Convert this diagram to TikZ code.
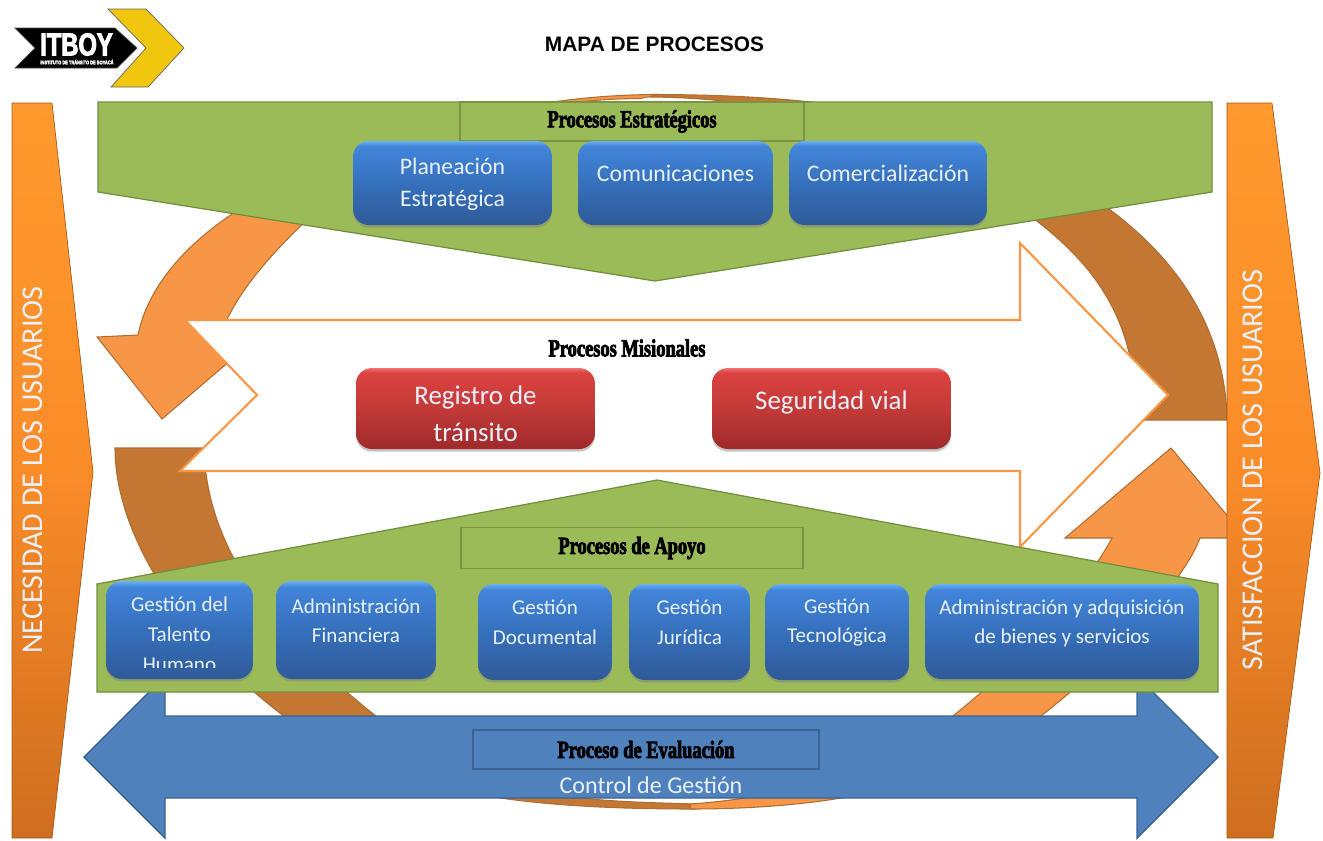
\documentclass[tikz,border=0pt]{standalone}
\usepackage{fontspec}
\setmainfont{Carlito}
\newfontfamily\titlefont{Liberation Sans}
\newfontfamily\headfont[FakeStretch=.75,FakeBold=3]{Liberation Serif}
\newfontfamily\logofont[FakeStretch=.75,FakeBold=3]{Liberation Sans}
\usetikzlibrary{shadows}
\definecolor{ringorange}{HTML}{F79646}
\definecolor{ringbrown}{HTML}{C47732}
\definecolor{ringline}{HTML}{AE6E33}
\definecolor{leafgreen}{HTML}{9BBB59}
\definecolor{leafline}{HTML}{6F8F3F}
\definecolor{headline}{HTML}{7C9346}
\definecolor{evalblue}{HTML}{4F81BD}
\definecolor{evalline}{HTML}{3A6391}
\definecolor{logoyellow}{HTML}{F0C60E}
\definecolor{boxtext}{HTML}{E8F1FB}
\definecolor{barhigh}{HTML}{FF9A2E}
\definecolor{barmid}{HTML}{FA8C28}
\definecolor{barlow}{HTML}{CE6E1F}
\definecolor{blueA}{HTML}{2F5A98}
\definecolor{blueB}{HTML}{3670BC}
\definecolor{blueC}{HTML}{4285DA}
\definecolor{blueD}{HTML}{6AB0F5}
\definecolor{redA}{HTML}{9E2A2A}
\definecolor{redB}{HTML}{C23A38}
\definecolor{redC}{HTML}{DB4240}
\definecolor{redD}{HTML}{F07070}
\pgfdeclareverticalshading{boxblue}{100bp}{color(0bp)=(blueA); color(25bp)=(blueA); color(50bp)=(blueB); color(72bp)=(blueC); color(75bp)=(blueD); color(100bp)=(blueD)}
\pgfdeclareverticalshading{boxred}{100bp}{color(0bp)=(redA); color(25bp)=(redA); color(50bp)=(redB); color(72bp)=(redC); color(75bp)=(redD); color(100bp)=(redD)}
\tikzset{
  ringpart/.style={line width=.6pt, draw=ringline},
  leaf/.style={draw=leafline, fill=leafgreen, line width=.7pt},
  sidebar/.style={draw=barlow!80!black, line width=.4pt, top color=barhigh, bottom color=barlow, middle color=barmid},
  sidetext/.style={rotate=90, text=boxtext, font=\fontsize{17.2}{20}\selectfont},
  procbox/.style={shading=boxblue, rounded corners=9pt, inner xsep=0pt, inner ysep=0pt, align=flush center, text=boxtext,
    drop shadow={shadow xshift=0pt, shadow yshift=-1.5pt, opacity=.45}},
  topbox/.style={procbox, minimum height=1.68cm, font=\fontsize{13.5}{18.2}\selectfont},
  lowbox/.style={procbox, font=\fontsize{12}{16.6}\selectfont},
  redbox/.style={procbox, shading=boxred, text width=4.78cm, minimum height=1.62cm, font=\fontsize{15.3}{21.5}\selectfont},
  lifted/.style={execute at end node={\par\vspace{#1}}},
  headtext/.style={font=\headfont\bfseries\fontsize{14}{16}\selectfont},
  headbox/.style={headtext, line width=1.1pt, minimum height=.78cm, inner sep=0pt}
}
\begin{document}
\begin{tikzpicture}[x=0.02cm, y=-0.02cm]
  \useasboundingbox (0,0) rectangle (1323,840);

  % Logo
  \draw[fill=black, draw=black!70] (15,28) -- (115,28) -- (137,48) -- (117,68) -- (15,68) -- (35,48) -- cycle;
  \draw[fill=logoyellow, draw=black!60, line width=.4pt] (108,9) -- (146,9) -- (184,48) -- (148,87) -- (111,87) -- (146,48) -- cycle;
  \node[text=white, inner sep=0pt, font=\logofont\bfseries\fontsize{18}{18}\selectfont] (logoname) at (76.5,44.5) {ITBOY};
  \node[text=white, inner sep=0pt, font=\logofont\bfseries\fontsize{3}{3}\selectfont] (logosub) at (77,62) {INSTITUTO DE TRÁNSITO DE BOYACÁ};

  % Title
  \node[font=\titlefont\bfseries\fontsize{11.9}{13}\selectfont, inner sep=0pt] (title) at (654.5,44.5) {MAPA DE PROCESOS};

  % Ring behind everything
  \draw[ringpart, fill=ringbrown] (1227,420) -- (1227,415) .. controls (1222,300) and (1145,210) .. (1000,148) .. controls (900,105) and (780,94.5) .. (650,94.5)
    -- (650,97) .. controls (780,98) and (900,130) .. (1000,195) .. controls (1100,260) and (1135,320) .. (1137,420) -- cycle;
  \draw[ringpart, fill=ringorange] (138,335) .. controls (150,275) and (210,210) .. (330,165) .. controls (420,131) and (520,94.5) .. (660,94.5)
    -- (640,98.5) .. controls (540,99) and (420,125) .. (340,190) .. controls (265,255) and (232,300) .. (220,337) -- (258,337) -- (162,419) -- (97,337) -- cycle;
  \draw[ringpart, fill=ringbrown] (115,448) .. controls (115,540) and (190,650) .. (300,728) .. controls (400,795) and (530,809) .. (695,809)
    -- (695,804) -- (663,803) .. controls (560,800) and (470,790) .. (390,727) .. controls (250,620) and (206,530) .. (204,448) -- cycle;
  \draw[ringpart, fill=ringorange] (1200,538) .. controls (1185,580) and (1100,680) .. (1000,745) .. controls (915,795) and (800,809) .. (690,809)
    -- (690,804) .. controls (780,798) and (880,772) .. (940,726) .. controls (1040,650) and (1098,565) .. (1112,538) -- (1065,538) -- (1171,448) -- (1246,538) -- cycle;

  % Misional arrow
  \draw[draw=ringorange, fill=white, line width=1.2pt] (185,320) -- (1020,320) -- (1020,243) -- (1168,395) -- (1020,547) -- (1020,471) -- (180,471) -- (257,395) -- cycle;
  \node[headtext, inner sep=0pt] (misional) at (627,348) {Procesos Misionales};
  \node[redbox, lifted=-6pt] (registro) at (475.5,408.5) {Registro de\\tránsito};
  \node[redbox, lifted=6.5pt] (seguridad) at (831.5,408.5) {Seguridad vial};

  % Evaluation arrow
  \draw[draw=evalline, fill=evalblue, line width=.8pt] (84,757) -- (165,676) -- (165,716) -- (1137,716) -- (1137,676) -- (1218,757) -- (1137,838) -- (1137,798) -- (165,798) -- (165,838) -- cycle;
  \node[headbox, draw=evalline, minimum width=6.92cm] (evaluacion) at (646,749.5) {Proceso de Evaluación};
  \node[text=boxtext, inner sep=0pt, font=\fontsize{13.7}{16}\selectfont] (control) at (651,785) {Control de Gestión};

  % Strategic block
  \draw[leaf] (98,102) -- (1212,102) -- (1212,192) -- (655,281) -- (98,192) -- cycle;
  \node[headbox, draw=headline, minimum width=6.88cm] (estrategicos) at (632,121.5) {Procesos Estratégicos};
  \node[topbox, text width=3.98cm, lifted=-1.5pt] (planeacion) at (452.5,183) {Planeación\\Estratégica};
  \node[topbox, text width=3.9cm, lifted=11pt] (comunicaciones) at (675.5,183) {Comunicaciones};
  \node[topbox, text width=3.96cm, lifted=11pt] (comercializacion) at (888,183) {Comercialización};

  % Support block
  \draw[leaf] (97,692) -- (1218,692) -- (1218,584) -- (657,480) -- (97,584) -- cycle;
  \node[headbox, draw=headline, minimum width=6.84cm, minimum height=.82cm] (apoyo) at (632,548) {Procesos de Apoyo};
  \node[lowbox, text width=2.94cm, minimum height=1.96cm] (talento) at (179.5,630) {};
  \begin{scope}
    \clip (106,581) rectangle (253,667);
    \node[align=flush center, text=boxtext, inner sep=0pt, font=\fontsize{12}{17.2}\selectfont] (talentotext) at (179.5,634) {Gestión del\\Talento\\Humano};
  \end{scope}
  \node[lowbox, text width=3.2cm, minimum height=1.96cm, lifted=11pt] (financiera) at (356,630) {Administración\\Financiera};
  \node[lowbox, text width=2.68cm, minimum height=1.92cm, lifted=11pt] (documental) at (545,632) {Gestión\\Documental};
  \node[lowbox, text width=2.42cm, minimum height=1.92cm, lifted=11pt] (juridica) at (689.5,632) {Gestión\\Jurídica};
  \node[lowbox, text width=2.88cm, minimum height=1.92cm, lifted=11pt] (tecnologica) at (837,632) {Gestión\\Tecnológica};
  \node[lowbox, text width=5.48cm, minimum height=1.9cm, lifted=9pt] (bienes) at (1062,631.5) {Administración y adquisición\\de bienes y servicios};

  % Side bars
  \draw[sidebar] (12,103) -- (52,103) -- (93,472) -- (52,838) -- (12,838) -- cycle;
  \draw[sidebar] (1227,103) -- (1272,103) -- (1320,473) -- (1273,838) -- (1227,838) -- cycle;
  \node[sidetext, inner sep=0pt] (necesidad) at (33,470) {NECESIDAD DE LOS USUARIOS};
  \node[sidetext, inner sep=0pt] (satisfaccion) at (1253,470) {SATISFACCION DE LOS USUARIOS};
\end{tikzpicture}
\end{document}
